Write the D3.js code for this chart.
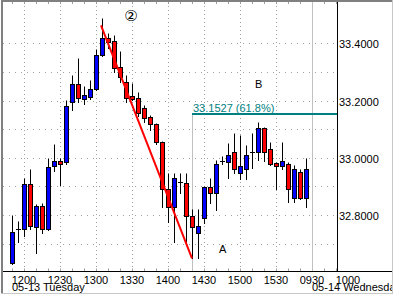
<!DOCTYPE html>
<html><head><meta charset="utf-8">
<script src="https://cdn.jsdelivr.net/npm/d3@7/dist/d3.min.js"></script>
<style>html,body{margin:0;padding:0;background:#fff;}svg{display:block;}</style>
</head><body>
<svg id="c" width="395" height="296"></svg>
<script>
const times = ["1150","1155","1200","1205","1210","1215","1220","1225","1230","1235","1240","1245","1250","1255",
  "1300","1305","1310","1315","1320","1325","1330","1335","1340","1345","1350","1355",
  "1400","1405","1410","1415","1420","1425","1430","1435","1440","1445","1450","1455",
  "1500","1505","1510","1515","1520","1525","1530","1535","1540","1545","1550","1555"];
const nextDaySlots = ["0930","0935","0940","0945","0950","0955","1000"];
const opens = [32.632,32.751,32.751,32.908,32.759,32.831,32.751,32.971,32.989,32.986,33.196,33.258,33.207,33.214,
  33.241,33.360,33.419,33.409,33.318,33.266,33.216,33.209,33.174,33.142,33.118,33.056,
  32.891,32.829,32.916,32.911,32.796,32.738,32.788,32.899,32.878,32.990,32.986,33.019,
  32.948,32.960,33.019,33.021,33.103,33.030,32.981,32.971,32.977,32.858,32.951,32.858];
const highs = [32.800,32.780,32.929,32.961,32.838,32.843,32.999,33.048,32.999,33.202,33.290,33.349,33.251,33.272,
  33.381,33.489,33.437,33.430,33.374,33.290,33.262,33.230,33.185,33.150,33.122,33.058,
  32.948,32.948,32.948,32.948,32.820,32.820,32.902,32.928,32.992,33.006,33.053,33.088,
  33.080,33.045,33.086,33.126,33.106,33.056,32.985,33.056,32.986,32.975,32.960,32.998];
const lows = [32.628,32.706,32.726,32.751,32.668,32.738,32.748,32.955,32.905,32.978,33.167,33.196,33.188,33.206,
  33.238,33.357,33.384,33.301,33.266,33.196,33.202,33.147,33.126,33.097,33.050,32.829,
  32.776,32.706,32.878,32.695,32.648,32.648,32.771,32.843,32.817,32.977,32.928,32.946,
  32.925,32.925,32.963,32.992,32.990,32.975,32.890,32.960,32.846,32.846,32.855,32.829];
const closes = [32.740,32.751,32.908,32.761,32.831,32.751,32.968,32.989,32.977,33.181,33.258,33.208,33.220,33.241,
  33.360,33.419,33.406,33.315,33.283,33.208,33.206,33.157,33.138,33.118,33.056,32.890,
  32.829,32.928,32.916,32.796,32.759,32.761,32.899,32.878,32.977,32.990,33.010,32.960,
  32.971,33.010,33.019,33.103,33.021,32.977,32.972,32.989,32.890,32.960,32.858,32.960];

const timeTickLabels = ["1200","1230","1300","1330","1400","1430","1500","1530","0930","1000"];
const gridTimes = ["1200","1230","1300","1330","1400","1430","1500","1530"];
const priceGrid = [32.7,32.8,32.9,33.0,33.1,33.2,33.3,33.4];
const priceLabels = [32.8,33.0,33.2,33.4];
const dateLabels = ["05-13 Tuesday","05-14 Wednesday"];
const dateLabelSlots = ["1150","0930"];
const fibLevel = 33.1527, fibText = "33.1527 (61.8%)";
const trendStart = {t:"1305", p:33.4634}, trendEnd = {t:"1420", p:32.648};
const notes = [{text:"B", t:"1515", p:33.244},{text:"A", t:"1445", p:32.668}];
const circleNote = {text:"\u2461", t:"1325", p:33.497};

const svg = d3.select("#c");
const W = 395, H = 296;
const slots = times.concat(nextDaySlots);
const x = d3.scalePoint().domain(slots).range([12, 12 + 6*(slots.length-1)]);
const y = d3.scaleLinear().domain([32.6, 33.5]).range([272.1, 14.9]);
const plotL = 3, plotR = 337, plotT = 2, axisY = 271.5;
const yy = p => Math.round(y(p)) + 0.5;
const font = "Arial, 'Liberation Sans', sans-serif";

svg.append("rect").attr("width", W).attr("height", H).attr("fill", "#fff");

const defs = svg.append("defs");
defs.append("clipPath").attr("id","clipAll").append("rect").attr("x",0).attr("y",0).attr("width",392).attr("height",293);

// vertical dotted gridlines
svg.append("g").selectAll("line").data(gridTimes).join("line")
  .attr("x1", d => x(d)+0.5).attr("x2", d => x(d)+0.5)
  .attr("y1", plotT).attr("y2", axisY)
  .attr("stroke", "#a0a0a0").attr("stroke-dasharray", "1,3");
// horizontal dotted gridlines
svg.append("g").selectAll("line").data(priceGrid).join("line")
  .attr("x1", plotL).attr("x2", plotR)
  .attr("y1", d => yy(d)).attr("y2", d => yy(d))
  .attr("stroke", "#a0a0a0").attr("stroke-dasharray", "1,5");

// minor ticks every 10 minutes (top and axis)
const minor = slots.filter((d,i) => i % 2 === 0 && x(d) < plotR);
svg.append("g").selectAll("line").data(minor).join("line")
  .attr("x1", d => x(d)+0.5).attr("x2", d => x(d)+0.5)
  .attr("y1", plotT).attr("y2", plotT+2).attr("stroke", "#a0a0a0");
svg.append("g").selectAll("line").data(minor).join("line")
  .attr("x1", d => x(d)+0.5).attr("x2", d => x(d)+0.5)
  .attr("y1", axisY-3).attr("y2", axisY).attr("stroke", "#a0a0a0");

// day separator
svg.append("line").attr("x1", x("0930")+0.5).attr("x2", x("0930")+0.5)
  .attr("y1", plotT).attr("y2", axisY).attr("stroke", "#c0c0c0");

// fib level
svg.append("line").attr("x1", x(trendEnd.t)+0.5).attr("x2", x(trendEnd.t)+0.5)
  .attr("y1", y(fibLevel)).attr("y2", axisY).attr("stroke", "#c0c0c0");
svg.append("line").attr("x1", x(trendEnd.t)).attr("x2", plotR)
  .attr("y1", Math.round(y(fibLevel))).attr("y2", Math.round(y(fibLevel)))
  .attr("stroke", "#008080").attr("stroke-width", 2);
svg.append("text").attr("x", x(trendEnd.t)+1).attr("y", Math.round(y(fibLevel))-2.5)
  .attr("font-family", font).attr("font-size", 11).attr("fill", "#008080").text(fibText);

// candles
const data = times.map((t,i) => ({t, o:opens[i], h:highs[i], l:lows[i], c:closes[i]}));
const g = svg.append("g");
g.selectAll("line.wick").data(data).join("line").attr("class","wick")
  .attr("x1", d => x(d.t)+0.5).attr("x2", d => x(d.t)+0.5)
  .attr("y1", d => yy(d.h)).attr("y2", d => yy(d.l)+0.5)
  .attr("stroke", "#000");
g.selectAll("rect.body").data(data.filter(d => d.o !== d.c)).join("rect").attr("class","body")
  .attr("x", d => x(d.t)-1.5).attr("width", 4)
  .attr("y", d => yy(Math.max(d.o,d.c)))
  .attr("height", d => Math.max(1, yy(Math.min(d.o,d.c)) - yy(Math.max(d.o,d.c))))
  .attr("fill", d => d.c > d.o ? "#0000ff" : "#ff0000")
  .attr("stroke", "#000");
g.selectAll("line.doji").data(data.filter(d => d.o === d.c)).join("line").attr("class","doji")
  .attr("x1", d => x(d.t)-2).attr("x2", d => x(d.t)+3)
  .attr("y1", d => yy(d.o)).attr("y2", d => yy(d.o))
  .attr("stroke", "#000");

// trend line
svg.append("line").attr("x1", x(trendStart.t)-1).attr("y1", y(trendStart.p))
  .attr("x2", x(trendEnd.t)).attr("y2", y(trendEnd.p))
  .attr("stroke", "#ff0000").attr("stroke-width", 2);

// notes
svg.append("g").selectAll("text").data(notes).join("text")
  .attr("x", d => x(d.t)-3).attr("y", d => y(d.p))
  .attr("font-family", font).attr("font-size", 11).attr("fill", "#000").text(d => d.text);
svg.append("text").attr("x", x(circleNote.t)+5).attr("y", y(circleNote.p))
  .attr("text-anchor","middle").attr("dominant-baseline","central")
  .attr("font-family", "'DejaVu Sans', 'Noto Sans CJK JP', sans-serif").attr("font-size", 15)
  .attr("fill", "#000").text(circleNote.text);

// axes lines
svg.append("line").attr("x1", plotR+0.5).attr("x2", plotR+0.5).attr("y1", plotT).attr("y2", axisY)
  .attr("stroke", "#000");
svg.append("line").attr("x1", plotL).attr("x2", 392).attr("y1", axisY).attr("y2", axisY)
  .attr("stroke", "#000");

// price labels
svg.append("g").selectAll("text").data(priceLabels).join("text")
  .attr("x", plotR+2).attr("y", d => yy(d)+4)
  .attr("font-family", font).attr("font-size", 11).attr("fill", "#000")
  .text(d => d3.format(".4f")(d));

// time labels
const tl = svg.append("g").attr("clip-path","url(#clipAll)");
tl.selectAll("text.t").data(timeTickLabels).join("text").attr("class","t")
  .attr("x", d => x(d)).attr("y", 283.5).attr("text-anchor","middle")
  .attr("font-family", font).attr("font-size", 11).attr("fill", "#000").text(d => d);
tl.selectAll("text.d").data(dateLabels).join("text").attr("class","d")
  .attr("x", (d,i) => x(dateLabelSlots[i])).attr("y", 291)
  .attr("font-family", font).attr("font-size", 11).attr("fill", "#000").text(d => d);

// frame
svg.append("rect").attr("x",1).attr("y",0).attr("width",2).attr("height",294).attr("fill","#808080");
svg.append("rect").attr("x",1).attr("y",0).attr("width",392).attr("height",2).attr("fill","#808080");
svg.append("line").attr("x1",392.5).attr("x2",392.5).attr("y1",0).attr("y2",294).attr("stroke","#c8c8c8");
svg.append("line").attr("x1",1).attr("x2",393).attr("y1",293.5).attr("y2",293.5).attr("stroke","#c8c8c8");
</script>
</body></html>
